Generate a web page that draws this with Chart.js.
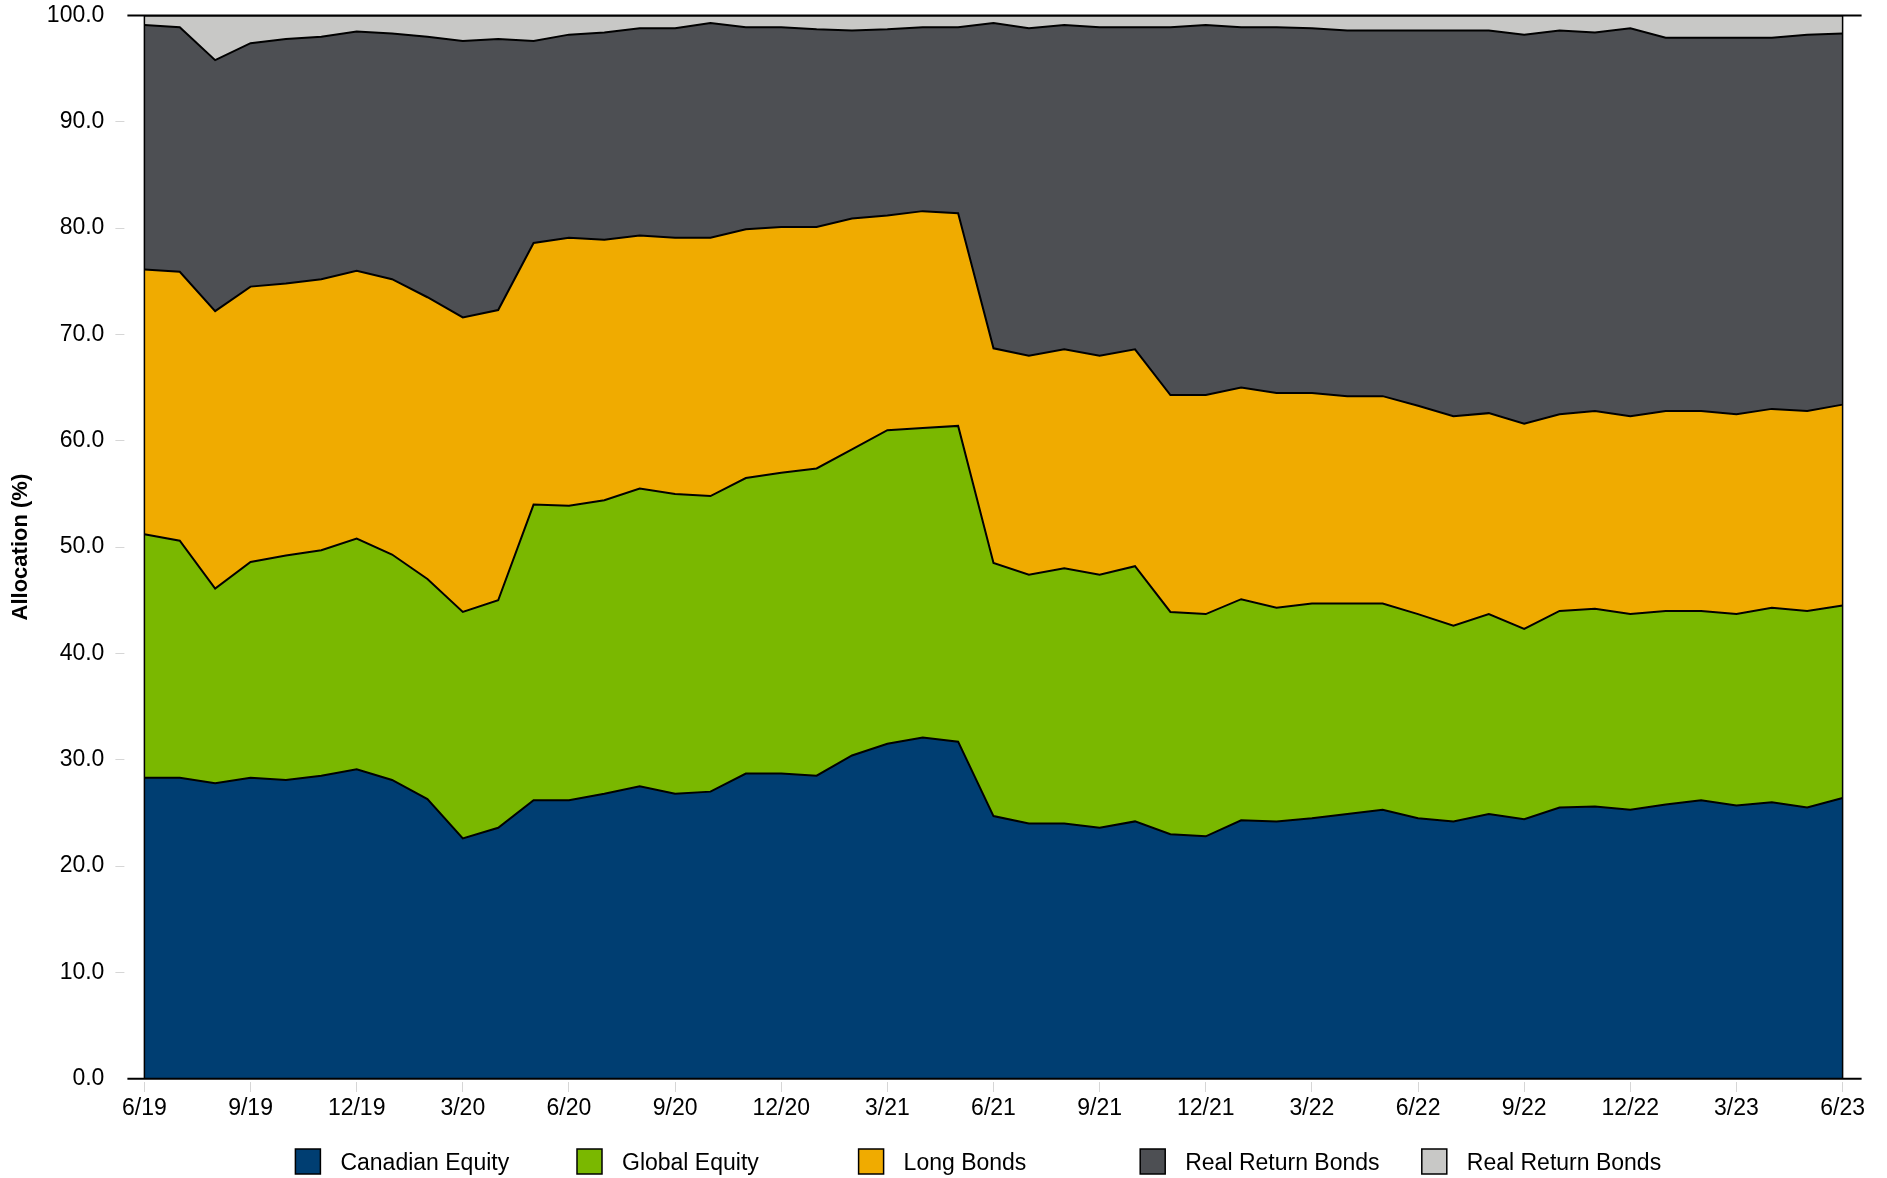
<!DOCTYPE html>
<html>
<head>
<meta charset="utf-8">
<title>Asset allocation</title>
<script src="https://cdn.jsdelivr.net/npm/chart.js@4.4.1/dist/chart.umd.min.js"></script>
<style>
  html, body { margin: 0; padding: 0; background: #fff; }
  #wrap { width: 1887px; height: 1178px; position: relative; }
</style>
</head>
<body>
<div id="wrap"><canvas id="chart"></canvas></div>
<script>
var months = ['6/19', '7/19', '8/19', '9/19', '10/19', '11/19', '12/19',
  '1/20', '2/20', '3/20', '4/20', '5/20', '6/20', '7/20', '8/20', '9/20', '10/20', '11/20', '12/20',
  '1/21', '2/21', '3/21', '4/21', '5/21', '6/21', '7/21', '8/21', '9/21', '10/21', '11/21', '12/21',
  '1/22', '2/22', '3/22', '4/22', '5/22', '6/22', '7/22', '8/22', '9/22', '10/22', '11/22', '12/22',
  '1/23', '2/23', '3/23', '4/23', '5/23', '6/23'];

var canadianEquity = [28.3, 28.3, 27.8, 28.3, 28.1, 28.5, 29.1, 28.1, 26.3, 22.6, 23.6, 26.2, 26.2,
  26.8, 27.5, 26.8, 27.0, 28.7, 28.7, 28.5, 30.4, 31.5, 32.1, 31.7, 24.7, 24.0, 24.0, 23.6, 24.2,
  23.0, 22.8, 24.3, 24.2, 24.5, 24.9, 25.3, 24.5, 24.2, 24.9, 24.4, 25.5, 25.6, 25.3, 25.8, 26.2,
  25.7, 26.0, 25.5, 26.4];
var globalEquity = [22.9, 22.3, 18.3, 20.3, 21.1, 21.2, 21.7, 21.2, 20.7, 21.3, 21.4, 27.8, 27.7,
  27.6, 28.0, 28.2, 27.8, 27.8, 28.3, 28.9, 28.8, 29.5, 29.1, 29.7, 23.8, 23.4, 24.0, 23.8, 24.0,
  20.9, 20.9, 20.8, 20.1, 20.2, 19.8, 19.4, 19.2, 18.4, 18.8, 17.9, 18.5, 18.6, 18.4, 18.2, 17.8,
  18.0, 18.3, 18.5, 18.1];
var longBonds = [24.9, 25.3, 26.1, 25.9, 25.6, 25.5, 25.2, 25.9, 26.5, 27.7, 27.3, 24.6, 25.2,
  24.5, 23.8, 24.1, 24.3, 23.4, 23.1, 22.7, 21.7, 20.2, 20.4, 20.0, 20.2, 20.6, 20.6, 20.6, 20.4,
  20.4, 20.6, 19.9, 20.2, 19.8, 19.5, 19.5, 19.6, 19.7, 18.9, 19.3, 18.5, 18.6, 18.6, 18.8, 18.8,
  18.8, 18.7, 18.8, 18.9];
var realReturnBonds = [23.0, 23.0, 23.6, 22.9, 23.0, 22.8, 22.5, 23.1, 24.5, 26.0, 25.5, 19.0, 19.1,
  19.5, 19.5, 19.7, 20.2, 19.0, 18.8, 18.6, 17.7, 17.5, 17.3, 17.5, 30.6, 30.8, 30.5, 30.9, 30.3,
  34.6, 34.8, 33.9, 34.4, 34.3, 34.4, 34.4, 35.3, 36.3, 36.0, 36.6, 36.1, 35.6, 36.5, 35.1, 35.1,
  35.4, 34.9, 35.4, 34.9];
var realReturnBonds2 = [0.9, 1.1, 4.2, 2.6, 2.2, 2.0, 1.5, 1.7, 2.0, 2.4, 2.2, 2.4, 1.8,
  1.6, 1.2, 1.2, 0.7, 1.1, 1.1, 1.3, 1.4, 1.3, 1.1, 1.1, 0.7, 1.2, 0.9, 1.1, 1.1,
  1.1, 0.9, 1.1, 1.1, 1.2, 1.4, 1.4, 1.4, 1.4, 1.4, 1.8, 1.4, 1.6, 1.2, 2.1, 2.1,
  2.1, 2.1, 1.8, 1.7];

var seriesNames = ['Canadian Equity', 'Global Equity', 'Long Bonds', 'Real Return Bonds', 'Real Return Bonds'];
var seriesColors = ['#003e72', '#7ab800', '#f0ab00', '#4d4f53', '#c8c8c6'];
var seriesData = [canadianEquity, globalEquity, longBonds, realReturnBonds, realReturnBonds2];

var fontFamily = '"Liberation Sans", Arial, sans-serif';
var tickGray = '#d6d6d6';

Chart.defaults.font.family = fontFamily;
Chart.defaults.font.size = 23;
Chart.defaults.color = '#000';

// legend with evenly spaced columns, drawn under the x axis
var columnLegend = {
  id: 'columnLegend',
  afterDraw: function(chart) {
    var ctx = chart.ctx;
    var area = chart.chartArea;
    var top = chart.height - 29;
    ctx.save();
    ctx.font = '23px ' + fontFamily;
    ctx.textBaseline = 'middle';
    chart.data.datasets.forEach(function(ds, i) {
      var x = area.left + 151 + i * 281.6;
      ctx.fillStyle = ds.backgroundColor;
      ctx.fillRect(x, top, 25, 25);
      ctx.strokeStyle = '#000';
      ctx.lineWidth = 1.5;
      ctx.strokeRect(x, top, 25, 25);
      ctx.fillStyle = '#000';
      ctx.fillText(ds.label, x + 45, top + 15);
    });
    ctx.restore();
  }
};

// black frame: plot sides plus the 0 and 100 lines running past the plot
var plotFrame = {
  id: 'plotFrame',
  afterDatasetsDraw: function(chart) {
    var ctx = chart.ctx;
    var a = chart.chartArea;
    var yScale = chart.scales.y;
    ctx.save();
    ctx.strokeStyle = '#000';
    ctx.lineWidth = 1.5;
    ctx.beginPath();
    ctx.moveTo(a.left, a.top);
    ctx.lineTo(a.left, a.bottom);
    ctx.moveTo(a.right, a.top);
    ctx.lineTo(a.right, a.bottom);
    ctx.stroke();
    ctx.lineWidth = 2;
    [0, 100].forEach(function(v) {
      var py = yScale.getPixelForValue(v);
      ctx.beginPath();
      ctx.moveTo(a.left - 17, py);
      ctx.lineTo(a.right + 19, py);
      ctx.stroke();
    });
    ctx.restore();
  }
};

var datasets = seriesData.map(function(values, i) {
  return {
    label: seriesNames[i],
    data: values,
    backgroundColor: seriesColors[i],
    borderColor: '#000',
    borderWidth: 2,
    pointRadius: 0,
    tension: 0,
    fill: i === 0 ? 'origin' : '-1'
  };
});

new Chart(document.getElementById('chart'), {
  type: 'line',
  data: {
    labels: months,
    datasets: datasets
  },
  plugins: [plotFrame, columnLegend],
  options: {
    responsive: true,
    maintainAspectRatio: false,
    animation: false,
    layout: {
      padding: { top: 15.5, right: 44.4, bottom: 59.3, left: 0 }
    },
    scales: {
      x: {
        offset: false,
        border: { display: false },
        grid: {
          drawOnChartArea: false,
          tickLength: 14,
          tickBorderDash: [0, 3, 10, 100],
          tickColor: function(ctx) {
            return ctx.index % 3 === 0 ? tickGray : 'rgba(0,0,0,0)';
          }
        },
        ticks: {
          autoSkip: false,
          maxRotation: 0,
          padding: 2,
          callback: function(val, index) {
            return index % 3 === 0 ? this.getLabelForValue(val) : '';
          }
        },
        afterFit: function(scale) { scale.height = 40; }
      },
      y: {
        stacked: true,
        min: 0,
        max: 100,
        border: { display: false },
        grid: {
          drawOnChartArea: false,
          tickLength: 29,
          tickBorderDash: [9, 20],
          tickColor: function(ctx) {
            var v = ctx.tick ? ctx.tick.value : 0;
            return (v === 0 || v === 100) ? 'rgba(0,0,0,0)' : tickGray;
          }
        },
        ticks: {
          stepSize: 10,
          padding: 11,
          callback: function(v) { return v.toFixed(1); }
        },
        title: {
          display: true,
          text: 'Allocation (%)',
          font: { size: 22, weight: 'bold' },
          padding: { top: 8, bottom: 0 }
        },
        afterFit: function(scale) {
          scale.width = 144.4;
          scale.paddingTop = 0;
          scale.paddingBottom = 0;
        }
      }
    },
    plugins: {
      legend: { display: false },
      tooltip: { enabled: false }
    }
  }
});
</script>
</body>
</html>
